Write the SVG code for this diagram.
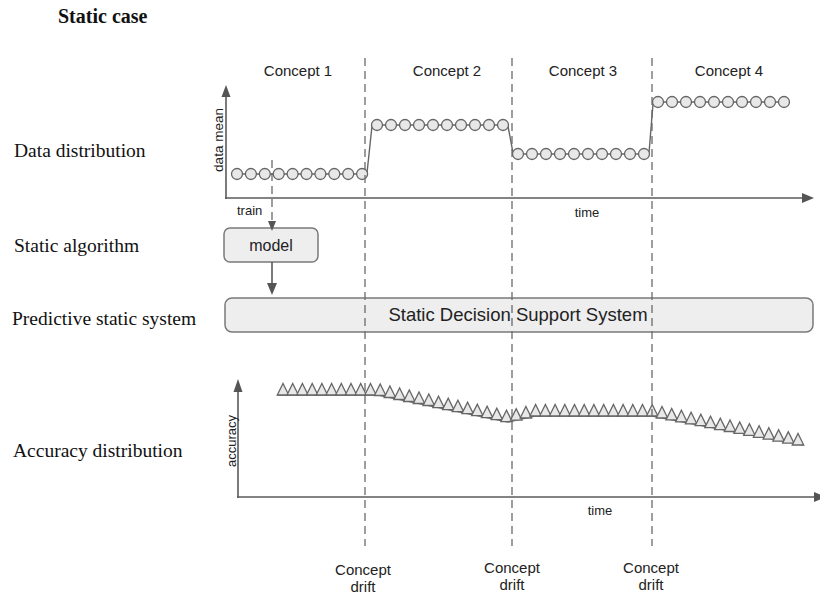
<svg xmlns="http://www.w3.org/2000/svg" xmlns:xlink="http://www.w3.org/1999/xlink" width="820" height="597" viewBox="0 0 820 597">
  <style>
    .serif { font-family: "Liberation Serif", "Times New Roman", serif; fill: #111; }
    .sans { font-family: "Liberation Sans", Arial, sans-serif; fill: #222; }
    .axis { stroke: #5a5a5a; stroke-width: 1.6; fill: none; }
    .head { fill: #555; stroke: none; }
    .drift { stroke: #6a6a6a; stroke-width: 1.3; stroke-dasharray: 8 5; fill: none; }
    .box { fill: #eeeeee; stroke: #7a7a7a; stroke-width: 1.5; }
    .trace { stroke: #666; stroke-width: 1.4; fill: none; }
    .marks { fill: #e8e8e8; stroke: #666; stroke-width: 1.3; }
  </style>
  <defs>
    <circle id="dot" r="5.5"/>
    <path id="tri" d="M-5.7,0 L0,-11.5 L5.7,0 Z"/>
  </defs>

  <rect width="820" height="597" fill="#ffffff"/>

  <!-- row captions -->
  <g id="captions">
    <text class="serif" x="58" y="23" font-size="20" font-weight="bold">Static case</text>
    <text class="serif" x="14" y="157" font-size="19.5">Data distribution</text>
    <text class="serif" x="14" y="252" font-size="19.5">Static algorithm</text>
    <text class="serif" x="12" y="325" font-size="19.5">Predictive static system</text>
    <text class="serif" x="13" y="457" font-size="19.5">Accuracy distribution</text>
  </g>

  <!-- concept headings -->
  <g id="concepts" class="sans" font-size="15" text-anchor="middle">
    <text x="298" y="76">Concept 1</text>
    <text x="447" y="76">Concept 2</text>
    <text x="583" y="76">Concept 3</text>
    <text x="729" y="76">Concept 4</text>
  </g>

  <!-- data mean chart -->
  <g id="data-chart">
    <line class="axis" x1="226" y1="199" x2="226" y2="96"/>
    <path class="head" d="M226,85 L221.5,97 L230.5,97 Z"/>
    <line class="axis" x1="225" y1="198" x2="804" y2="198"/>
    <path class="head" d="M814,198 L802,193 L802,203 Z"/>
    <text class="sans" font-size="13.5" text-anchor="middle" transform="translate(223,140) rotate(-90)">data mean</text>
    <text class="sans" font-size="13" x="237" y="215">train</text>
    <text class="sans" font-size="13" x="587" y="217" text-anchor="middle">time</text>
    <polyline class="trace" points="237,174 362,174 367,173 372,126 377,125 503,125 508,126 513,153 518,154 644,154 649,153 653,104 658,102 784,102"/>
    <g class="marks">
      <use href="#dot" x="237" y="174"/><use href="#dot" x="250.9" y="174"/><use href="#dot" x="264.8" y="174"/><use href="#dot" x="278.7" y="174"/><use href="#dot" x="292.6" y="174"/>
      <use href="#dot" x="306.5" y="174"/><use href="#dot" x="320.4" y="174"/><use href="#dot" x="334.3" y="174"/><use href="#dot" x="348.2" y="174"/><use href="#dot" x="362.1" y="174"/>
      <use href="#dot" x="377" y="125"/><use href="#dot" x="391" y="125"/><use href="#dot" x="405" y="125"/><use href="#dot" x="419" y="125"/><use href="#dot" x="433" y="125"/>
      <use href="#dot" x="447" y="125"/><use href="#dot" x="461" y="125"/><use href="#dot" x="475" y="125"/><use href="#dot" x="489" y="125"/><use href="#dot" x="503" y="125"/>
      <use href="#dot" x="518" y="154"/><use href="#dot" x="532" y="154"/><use href="#dot" x="546" y="154"/><use href="#dot" x="560" y="154"/><use href="#dot" x="574" y="154"/>
      <use href="#dot" x="588" y="154"/><use href="#dot" x="602" y="154"/><use href="#dot" x="616" y="154"/><use href="#dot" x="630" y="154"/><use href="#dot" x="644" y="154"/>
      <use href="#dot" x="658" y="102"/><use href="#dot" x="672" y="102"/><use href="#dot" x="686" y="102"/><use href="#dot" x="700" y="102"/><use href="#dot" x="714" y="102"/>
      <use href="#dot" x="728" y="102"/><use href="#dot" x="742" y="102"/><use href="#dot" x="756" y="102"/><use href="#dot" x="770" y="102"/><use href="#dot" x="784" y="102"/>
    </g>
  </g>

  <!-- nodes -->
  <g id="model">
    <rect class="box" x="224" y="228" width="94" height="34" rx="6"/>
    <text class="sans" x="271" y="251" font-size="16" text-anchor="middle">model</text>
  </g>
  <g id="decision-system">
    <rect class="box" x="225" y="298" width="588" height="34" rx="7"/>
    <text class="sans" x="518" y="321" font-size="18.5" text-anchor="middle">Static Decision Support System</text>
  </g>

  <!-- connectors -->
  <g id="connectors">
    <line class="drift" x1="272" y1="160" x2="272" y2="222" stroke-dasharray="7 4"/>
    <path class="head" d="M272,231 L268,221 L276,221 Z"/>
    <line class="axis" x1="272" y1="262" x2="272" y2="285"/>
    <path class="head" d="M272,295 L267,283 L277,283 Z"/>
  </g>

  <!-- accuracy chart -->
  <g id="accuracy-chart">
    <line class="axis" x1="238" y1="498" x2="238" y2="391"/>
    <path class="head" d="M238,379 L233.5,392 L242.5,392 Z"/>
    <line class="axis" x1="237" y1="497" x2="814" y2="497"/>
    <path class="head" d="M826,497 L814,492 L814,502 Z"/>
    <text class="sans" font-size="13" text-anchor="middle" transform="translate(236,441) rotate(-90)">accuracy</text>
    <text class="sans" font-size="13" x="600" y="515" text-anchor="middle">time</text>
    <polyline class="trace" points="277.5,395 378,395 508,422 535,416 652,416 803.5,445"/>
    <g class="marks">
      <use href="#tri" x="283" y="395"/><use href="#tri" x="292.7" y="395"/><use href="#tri" x="302.4" y="395"/><use href="#tri" x="312.2" y="395"/><use href="#tri" x="321.9" y="395"/>
      <use href="#tri" x="331.6" y="395"/><use href="#tri" x="341.3" y="395"/><use href="#tri" x="351" y="395"/><use href="#tri" x="360.7" y="395"/><use href="#tri" x="370.5" y="395"/>
      <use href="#tri" x="380.2" y="395.5"/><use href="#tri" x="389.9" y="397.5"/><use href="#tri" x="399.6" y="399.5"/><use href="#tri" x="409.3" y="401.5"/><use href="#tri" x="419" y="403.5"/>
      <use href="#tri" x="428.8" y="405.5"/><use href="#tri" x="438.5" y="407.6"/><use href="#tri" x="448.2" y="409.6"/><use href="#tri" x="457.9" y="411.6"/><use href="#tri" x="467.6" y="413.6"/>
      <use href="#tri" x="477.3" y="415.6"/><use href="#tri" x="487.1" y="417.7"/><use href="#tri" x="496.8" y="419.7"/><use href="#tri" x="506.5" y="421.7"/><use href="#tri" x="516.2" y="420.2"/>
      <use href="#tri" x="525.9" y="418"/><use href="#tri" x="535.6" y="416"/><use href="#tri" x="545.4" y="416"/><use href="#tri" x="555.1" y="416"/><use href="#tri" x="564.8" y="416"/>
      <use href="#tri" x="574.5" y="416"/><use href="#tri" x="584.2" y="416"/><use href="#tri" x="593.9" y="416"/><use href="#tri" x="603.7" y="416"/><use href="#tri" x="613.4" y="416"/>
      <use href="#tri" x="623.1" y="416"/><use href="#tri" x="632.8" y="416"/><use href="#tri" x="642.5" y="416"/><use href="#tri" x="652.2" y="416"/><use href="#tri" x="662" y="418"/>
      <use href="#tri" x="671.7" y="419.9"/><use href="#tri" x="681.4" y="421.8"/><use href="#tri" x="691.1" y="423.8"/><use href="#tri" x="700.8" y="425.7"/><use href="#tri" x="710.5" y="427.6"/>
      <use href="#tri" x="720.3" y="429.6"/><use href="#tri" x="730" y="431.5"/><use href="#tri" x="739.7" y="433.4"/><use href="#tri" x="749.4" y="435.3"/><use href="#tri" x="759.1" y="437.3"/>
      <use href="#tri" x="768.8" y="439.2"/><use href="#tri" x="778.6" y="441.1"/><use href="#tri" x="788.3" y="443.1"/><use href="#tri" x="798" y="445"/>
    </g>
  </g>

  <!-- drift boundaries, drawn over everything they cross -->
  <g id="drift-lines">
    <line class="drift" x1="365" y1="58" x2="365" y2="546"/>
    <line class="drift" x1="512" y1="58" x2="512" y2="546"/>
    <line class="drift" x1="652" y1="58" x2="652" y2="546"/>
  </g>
  <g id="drift-labels" class="sans" font-size="15" text-anchor="middle">
    <text x="363" y="575">Concept</text>
    <text x="363" y="592">drift</text>
    <text x="512" y="573">Concept</text>
    <text x="512" y="590">drift</text>
    <text x="651" y="573">Concept</text>
    <text x="651" y="590">drift</text>
  </g>
</svg>
